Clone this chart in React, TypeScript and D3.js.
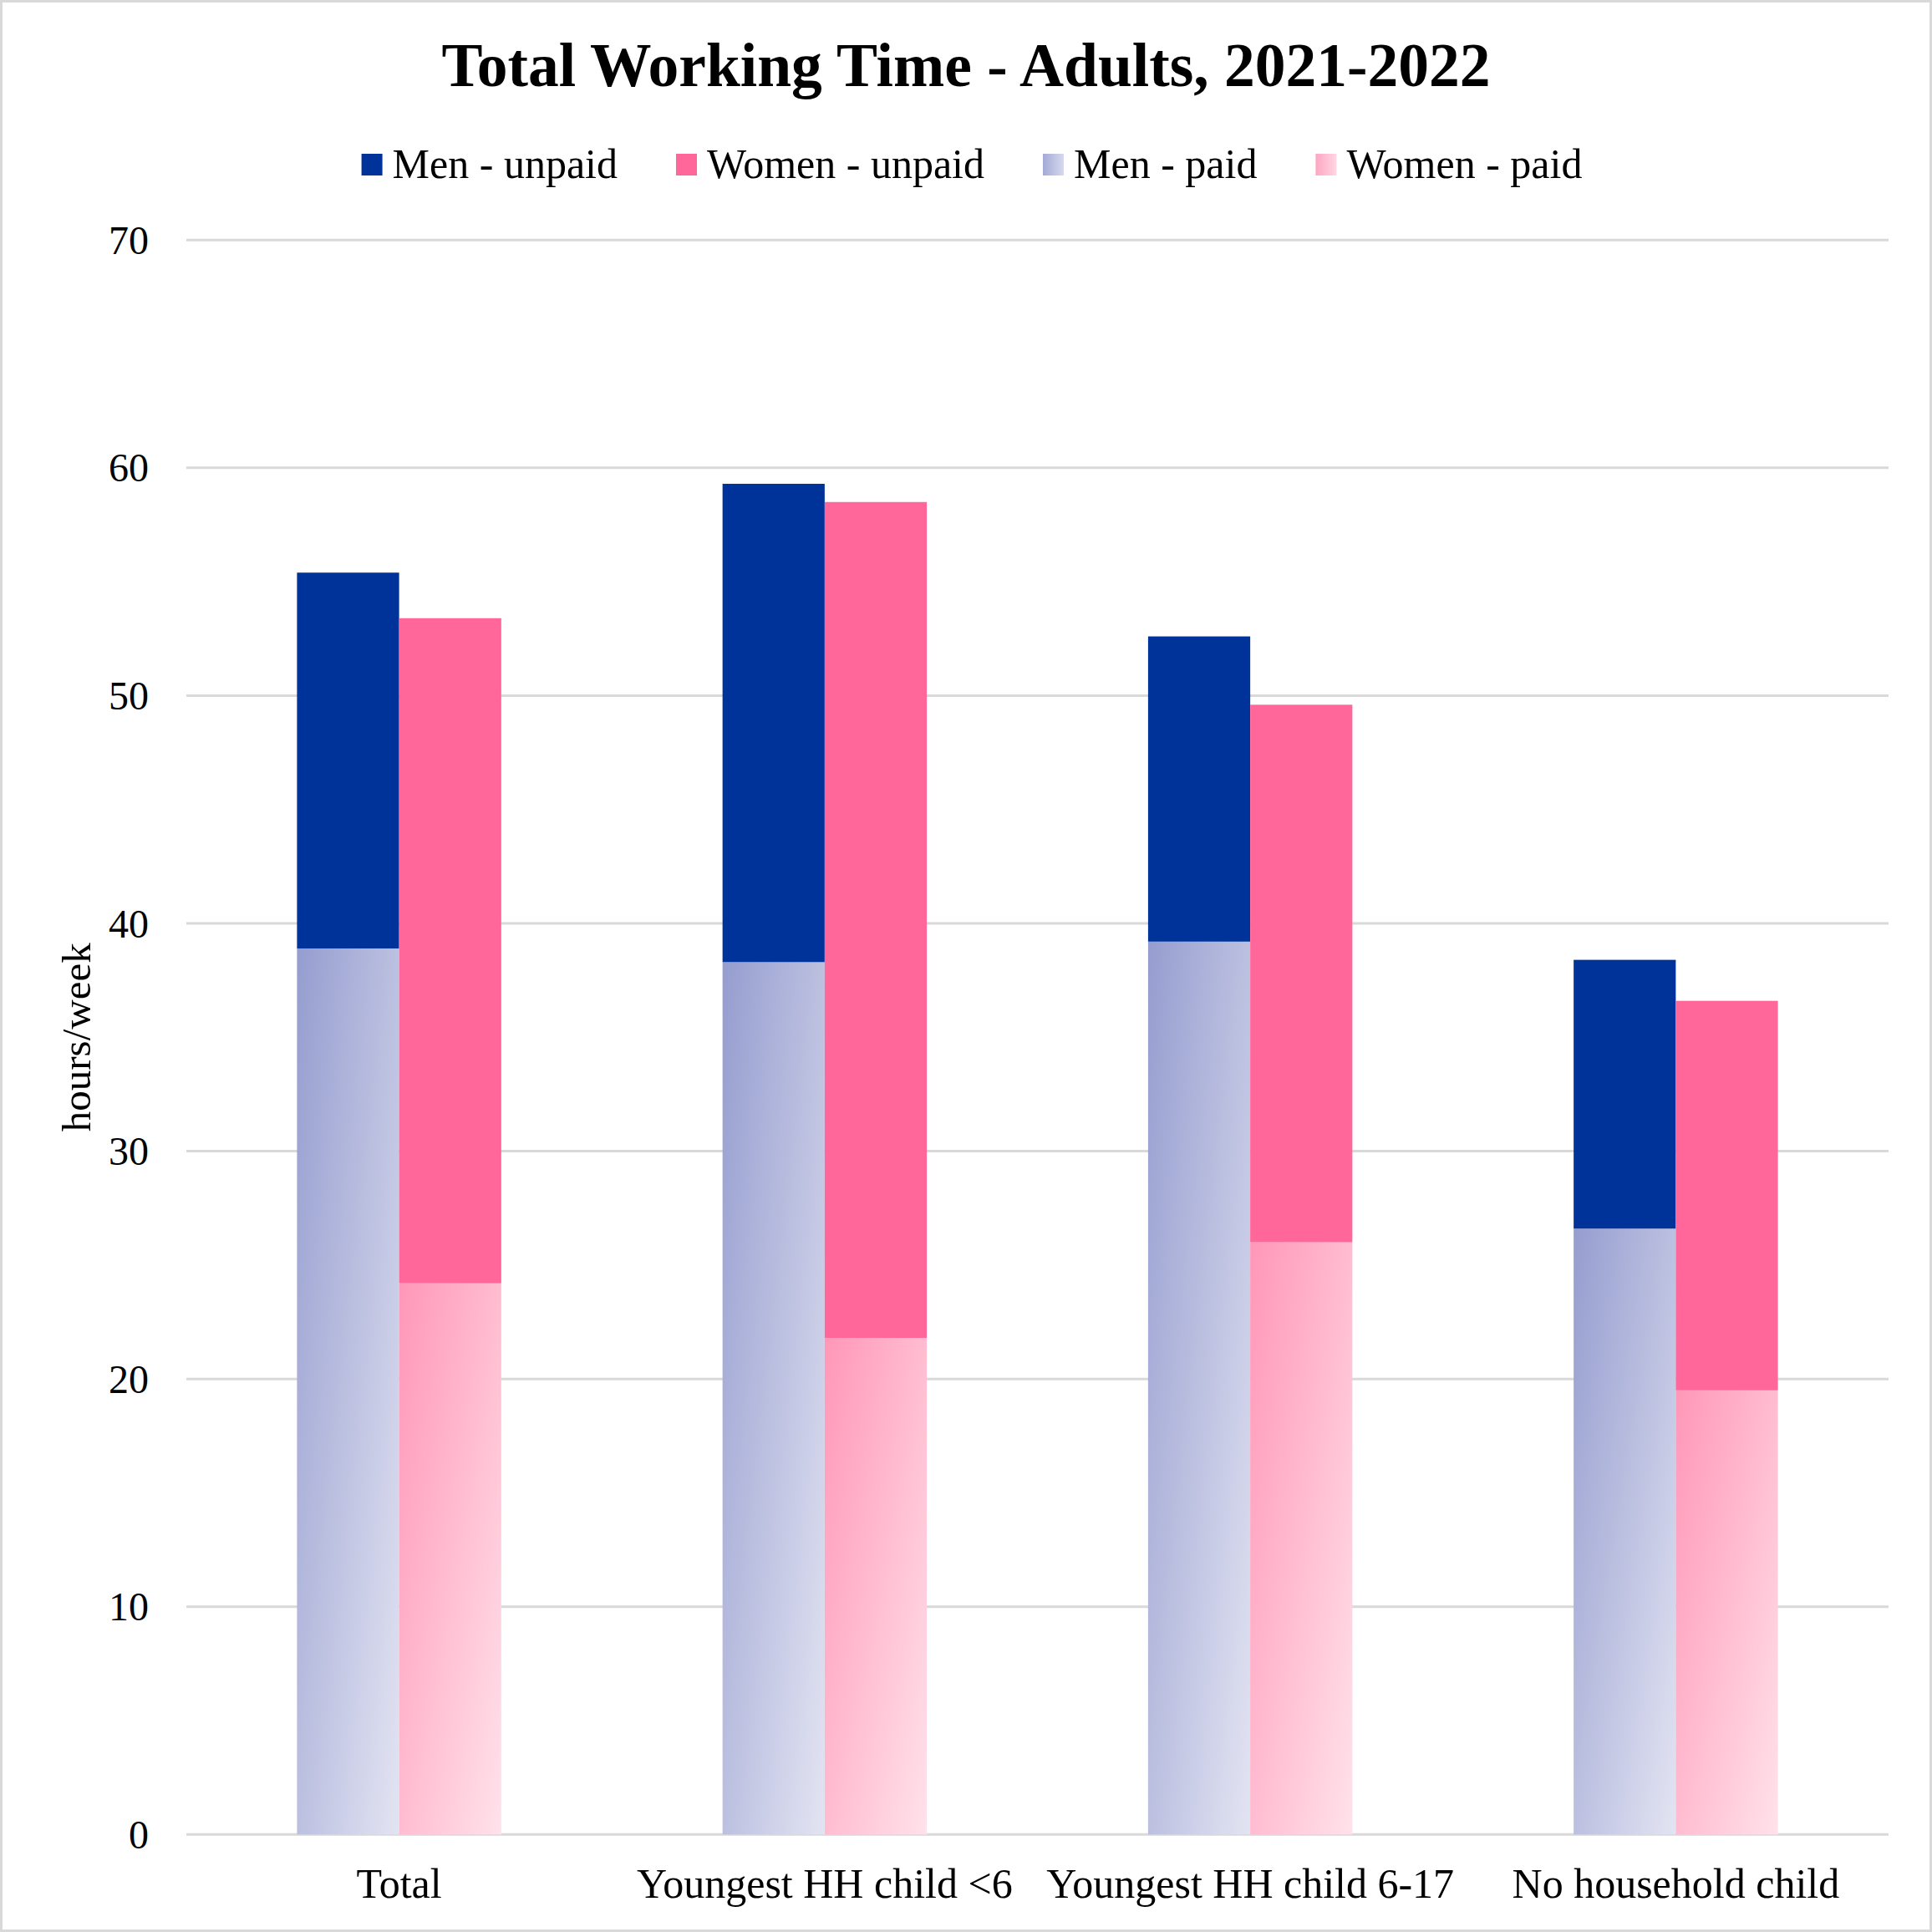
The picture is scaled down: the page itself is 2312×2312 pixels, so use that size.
import React, { useEffect, useRef } from "react";
import * as d3 from "d3";

const categories = ["Total", "Youngest HH child <6", "Youngest HH child 6-17", "No household child"];
const menPaid = [38.9, 38.3, 39.2, 26.6];
const menUnpaid = [16.5, 21.0, 13.4, 11.8];
const womenPaid = [24.2, 21.8, 26.0, 19.5];
const womenUnpaid = [29.2, 36.7, 23.6, 17.1];
const yTicks = [0, 10, 20, 30, 40, 50, 60, 70];
const legendLabels = ["Men - unpaid", "Women - unpaid", "Men - paid", "Women - paid"];
const title = "Total Working Time - Adults, 2021-2022";
const yLabel = "hours/week";

const W = 2312;
const H = 2312;
const FONT = "'Liberation Serif', 'Times New Roman', serif";

export default function App() {
  const ref = useRef<SVGSVGElement | null>(null);

  useEffect(() => {
    const svg = d3.select(ref.current);
    svg.selectAll("*").remove();

    const defs = svg.append("defs");
    const mkGrad = (id: string, c0: string, c1: string, x2: string, y2: string) => {
      const g = defs.append("linearGradient").attr("id", id)
        .attr("x1", "0").attr("y1", "0").attr("x2", x2).attr("y2", y2);
      g.append("stop").attr("offset", "0%").attr("stop-color", c0);
      g.append("stop").attr("offset", "100%").attr("stop-color", c1);
    };
    mkGrad("menPaidG", "#959dcf", "#e3e4f2", "1", "1");
    mkGrad("womenPaidG", "#ff97b8", "#ffe2eb", "1", "1");
    mkGrad("menPaidL", "#a3aad6", "#d6d9ee", "1", "0");
    mkGrad("womenPaidL", "#ffa6c3", "#ffd6e3", "1", "0");

    // background + border
    svg.append("rect").attr("x", 1.5).attr("y", 1.5).attr("width", W - 3).attr("height", H - 3)
      .attr("fill", "#ffffff").attr("stroke", "#d9d9d9").attr("stroke-width", 3);

    const left = 223, right = 2260, top = 287.3, bottom = 2195.3;
    const x = d3.scaleBand<string>().domain(categories).range([left, right]).paddingInner(0).paddingOuter(0);
    const y = d3.scaleLinear().domain([0, 70]).range([bottom, top]);
    const barW = x.bandwidth() * 0.24;

    // grid
    const grid = svg.append("g");
    grid.selectAll("line").data(yTicks).enter().append("line")
      .attr("x1", left).attr("x2", right)
      .attr("y1", (d) => y(d)).attr("y2", (d) => y(d))
      .attr("stroke", "#d9d9d9").attr("stroke-width", 3);

    // y tick labels
    svg.append("g").selectAll("text").data(yTicks).enter().append("text")
      .attr("x", 178).attr("y", (d) => y(d))
      .attr("text-anchor", "end").attr("dominant-baseline", "central")
      .attr("font-family", FONT).attr("font-size", 48).attr("fill", "#000")
      .text((d) => String(d));

    // bars
    const series = [
      { key: "menPaid", vals: menPaid, base: null as number[] | null, fill: "url(#menPaidG)", off: -1 },
      { key: "menUnpaid", vals: menUnpaid, base: menPaid, fill: "#003399", off: -1 },
      { key: "womenPaid", vals: womenPaid, base: null, fill: "url(#womenPaidG)", off: 0 },
      { key: "womenUnpaid", vals: womenUnpaid, base: womenPaid, fill: "#ff6699", off: 0 },
    ];
    const gBars = svg.append("g");
    series.forEach((s) => {
      gBars.append("g").selectAll("rect").data(categories).enter().append("rect")
        .attr("x", (c) => (x(c) as number) + x.bandwidth() / 2 + s.off * barW)
        .attr("width", barW)
        .attr("y", (_c, i) => y((s.base ? s.base[i] : 0) + s.vals[i]))
        .attr("height", (_c, i) => y(s.base ? s.base[i] : 0) - y((s.base ? s.base[i] : 0) + s.vals[i]))
        .attr("fill", s.fill);
    });

    // x labels
    svg.append("g").selectAll("text").data(categories).enter().append("text")
      .attr("x", (c) => (x(c) as number) + x.bandwidth() / 2).attr("y", 2271)
      .attr("text-anchor", "middle")
      .attr("font-family", FONT).attr("font-size", 50).attr("fill", "#000")
      .text((c) => c);

    // y label
    svg.append("text")
      .attr("transform", `translate(108, ${(top + bottom) / 2}) rotate(-90)`)
      .attr("text-anchor", "middle")
      .attr("font-family", FONT).attr("font-size", 49).attr("fill", "#000")
      .text(yLabel);

    // title
    svg.append("text").attr("x", W / 2).attr("y", 103).attr("text-anchor", "middle")
      .attr("font-family", FONT).attr("font-weight", "bold").attr("font-size", 73.5).attr("fill", "#000")
      .text(title);

    // legend
    const legFills = ["#003399", "#ff6699", "url(#menPaidL)", "url(#womenPaidL)"];
    const lg = svg.append("g");
    const sw = 25, gapT = 12, gapItem = 70;
    const texts: { w: number }[] = [];
    const items = legendLabels.map((lab, i) => {
      const g = lg.append("g");
      g.append("rect").attr("x", 0).attr("y", 184).attr("width", sw).attr("height", 26).attr("fill", legFills[i]);
      const t = g.append("text").attr("x", sw + gapT).attr("y", 213)
        .attr("font-family", FONT).attr("font-size", 50).attr("fill", "#000").text(lab);
      const w = (t.node() as SVGTextElement).getComputedTextLength();
      texts.push({ w });
      return g;
    });
    let total = 0;
    texts.forEach((t, i) => { total += sw + gapT + t.w + (i < texts.length - 1 ? gapItem : 0); });
    let cx = 1163 - total / 2;
    items.forEach((g, i) => {
      g.attr("transform", `translate(${cx},0)`);
      cx += sw + gapT + texts[i].w + gapItem;
    });
  }, []);

  return (
    <div style={{ position: "absolute", left: 0, top: 0 }}>
      <svg ref={ref} width={W} height={H} style={{ display: "block" }} />
    </div>
  );
}
